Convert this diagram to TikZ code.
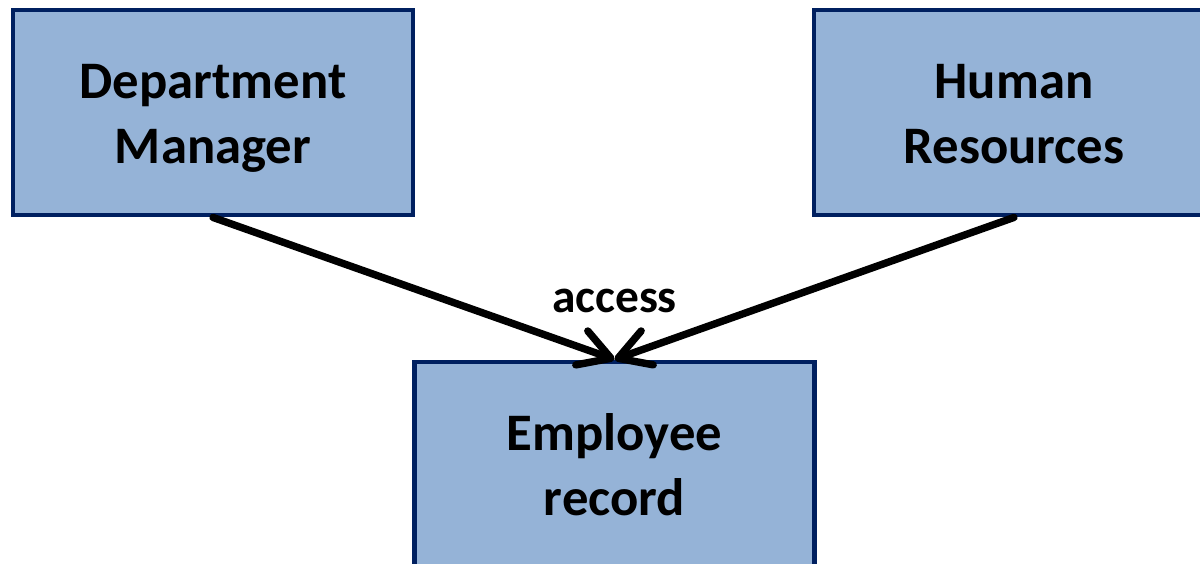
\documentclass[tikz,border=0pt]{standalone}
\usepackage{fontspec}
\setmainfont{Carlito}
\usepackage{xcolor}
\usepackage{tikz}
\usetikzlibrary{positioning,arrows.meta}
\definecolor{boxfill}{HTML}{95B3D7}
\definecolor{boxline}{HTML}{002060}

\begin{document}
\begin{tikzpicture}[
    box/.style={draw=boxline,fill=boxfill,line width=1.4pt,minimum width=4cm,minimum height=2.05cm,
      align=center,inner sep=0pt,text height=32.5pt,text depth=3.2pt,
      font=\fontsize{15pt}{18.5pt}\selectfont\bfseries},
    link/.style={line width=2.1pt,line cap=round,-{Straight Barb[length=3.1mm,width=3.6mm,round]}}]
    \useasboundingbox (0,0) rectangle (12,5.64);
    \node[box] (dm) at (2.13,4.515) {Department\\Manager};
    \node[box] (hr) at (10.14,4.515) {Human\\Resources};
    \node[box] (emp) at (6.145,0.995) {Employee\\record};
    \node[above=4.6mm of emp,inner sep=0pt,font=\fontsize{13.5pt}{16pt}\selectfont\bfseries] (acc) {access};
    \draw[link] (dm.south) to (emp.north);
    \draw[link] (hr.south) to (emp.north);
\end{tikzpicture}
\end{document}
